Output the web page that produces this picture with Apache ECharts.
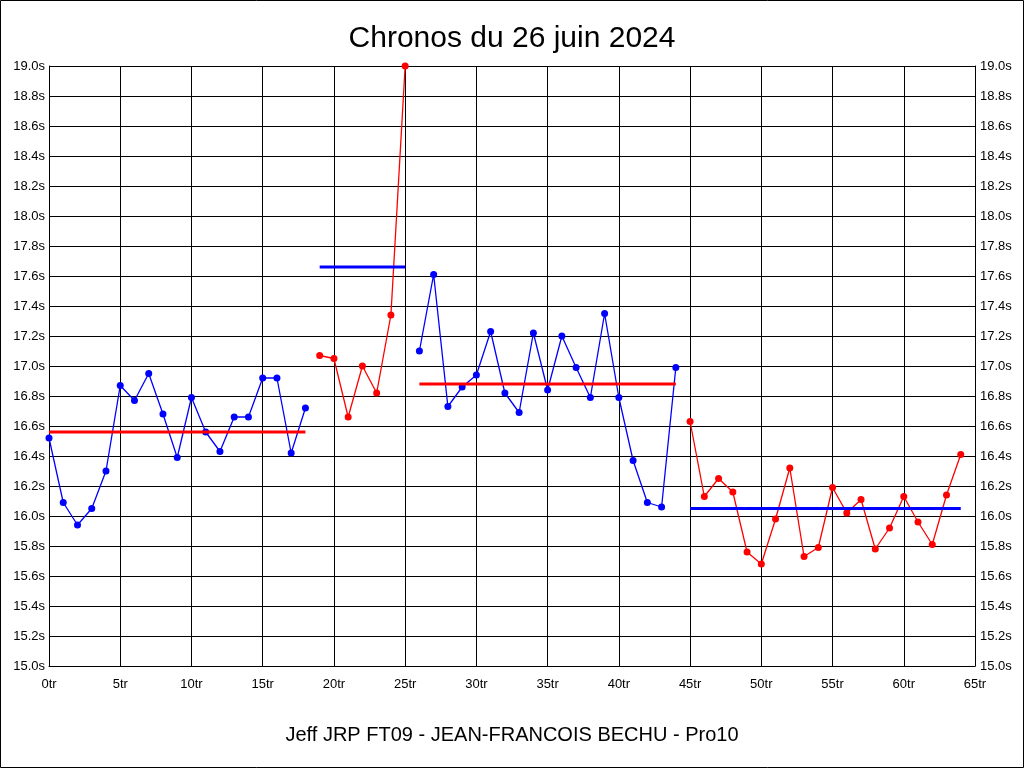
<!DOCTYPE html>
<html>
<head>
<meta charset="utf-8">
<script src="https://cdn.jsdelivr.net/npm/echarts@6/dist/echarts.min.js"></script>
<style>
html,body{margin:0;padding:0;background:#fff;}
#chart{width:1024px;height:768px;}
</style>
</head>
<body>
<div id="chart"></div>
<script>
// Lap times (seconds), one array per run segment, with the lap index where each starts
const seg1Start = 0;
const seg1 = [16.52,16.09,15.94,16.05,16.30,16.87,16.77,16.95,16.68,16.39,16.79,16.56,16.43,16.66,16.66,16.92,16.92,16.42,16.72];
const seg2Start = 19;
const seg2 = [17.07,17.05,16.66,17.00,16.82,17.34,19.00];
const seg3Start = 26;
const seg3 = [17.10,17.61,16.73,16.86,16.94,17.23,16.82,16.69,17.22,16.84,17.20,16.99,16.79,17.35,16.79,16.37,16.09,16.06,16.99];
const seg4Start = 45;
const seg4 = [16.63,16.13,16.25,16.16,15.76,15.68,15.98,16.32,15.73,15.79,16.19,16.02,16.11,15.78,15.92,16.13,15.96,15.81,16.14,16.41];
// Mean of each segment
const segMeans = [16.56,17.66,16.88,16.05];
const segColors = ['#0000ff','#ff0000','#0000ff','#ff0000'];
const meanColors = ['#ff0000','#0000ff','#ff0000','#0000ff'];
const titleText = 'Chronos du 26 juin 2024';
const subtitleText = 'Jeff JRP FT09 - JEAN-FRANCOIS BECHU - Pro10';

const segs = [[seg1Start,seg1],[seg2Start,seg2],[seg3Start,seg3],[seg4Start,seg4]];
const font = '"Liberation Sans", Arial, sans-serif';
const series = [];
segs.forEach(([s,arr],k)=>{
  series.push({
    type:'line', data: arr.map((v,i)=>[s+i,v]),
    symbol:'circle', symbolSize:7, showSymbol:true,
    lineStyle:{color:segColors[k],width:1.3}, itemStyle:{color:segColors[k]},
    animation:false, z:3, clip:true
  });
});
segs.forEach(([s,arr],k)=>{
  series.push({
    type:'line', data:[[s,segMeans[k]],[s+arr.length-1,segMeans[k]]],
    symbol:'none', lineStyle:{color:meanColors[k],width:3},
    animation:false, z:4
  });
});

const chart = echarts.init(document.getElementById('chart'),null,{renderer:'canvas'});
const yAxisBase = {
  type:'value', min:15, max:19, interval:0.2,
  axisLine:{show:true,lineStyle:{color:'#000',width:1}},
  axisTick:{show:false},
  axisLabel:{color:'#000',fontSize:13,fontFamily:font,formatter:v=>v.toFixed(1)+'s'},
  splitLine:{show:false}
};
chart.setOption({
  backgroundColor:'#fff',
  animation:false,
  title:[
    {text:titleText,left:'center',top:19,textStyle:{fontSize:30,fontWeight:'normal',color:'#000',fontFamily:font}},
    {text:subtitleText,left:'center',top:720,textStyle:{fontSize:20,fontWeight:'normal',color:'#000',fontFamily:font}}
  ],
  grid:{left:49,right:49,top:66,bottom:102,containLabel:false},
  xAxis:{
    type:'value', min:0, max:65, interval:5,
    axisLine:{show:true,onZero:false,lineStyle:{color:'#000',width:1}},
    axisTick:{show:false},
    axisLabel:{color:'#000',fontSize:13,fontFamily:font,margin:12,formatter:v=>v+'tr'},
    splitLine:{show:true,lineStyle:{color:'#000',width:1}}
  },
  yAxis:[
    Object.assign({},yAxisBase,{position:'left',splitLine:{show:true,lineStyle:{color:'#000',width:1}},axisLabel:Object.assign({},yAxisBase.axisLabel,{margin:4})}),
    Object.assign({},yAxisBase,{position:'right',axisLabel:Object.assign({},yAxisBase.axisLabel,{margin:5})})
  ],
  graphic:[{type:'rect',shape:{x:0.5,y:0.5,width:1023,height:767},style:{fill:'none',stroke:'#000',lineWidth:1},silent:true,z:100}],
  series: series
});
</script>
</body>
</html>
